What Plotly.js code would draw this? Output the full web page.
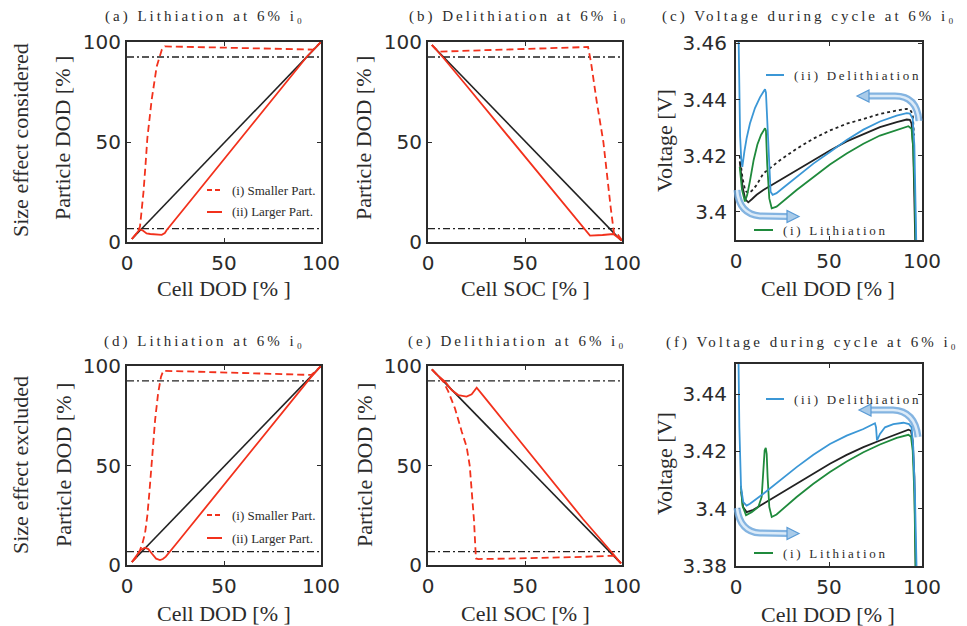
<!DOCTYPE html>
<html><head><meta charset="utf-8">
<script src="https://cdn.plot.ly/plotly-3.0.1.min.js"></script>
<style>html,body{margin:0;padding:0;background:#fff}#chart{width:967px;height:626px}</style>
</head><body><div id="chart"></div>
<script>
// ---------------- tick labels ----------------
const pctTickVals = [0, 50, 100];
const pctTickText = ['0', '50', '100'];
const voltTickValsC = [3.40, 3.42, 3.44, 3.46];
const voltTickTextC = ['3.4', '3.42', '3.44', '3.46'];
const voltTickValsF = [3.38, 3.40, 3.42, 3.44];
const voltTickTextF = ['3.38', '3.4', '3.42', '3.44'];
// dash-dot reference levels (particle DOD %)
const refLevels = [6.7, 92.5];
const refSpan = [0, 100];

// ---------------- (a) lithiation, size effect considered ----------------
const aCellX = [2.5, 100];
const aCellY = [1.5, 100];
const aSmallX = [2.5, 5, 6.7, 7.5, 8.5, 9.5, 10.5, 12.7, 15.3, 17.9, 19.5, 30, 50, 70, 90, 96, 100];
const aSmallY = [1.5, 4.3, 7.7, 15, 25, 38, 52, 71, 87.7, 96, 97.8, 97.6, 97.2, 96.8, 96.4, 96.2, 100];
const aLargeX = [2.5, 5, 6.6, 8, 10.1, 12, 15, 17.9, 19.5, 20.5, 30, 40, 50, 60, 70, 80, 92.6, 100];
const aLargeY = [1.5, 4.5, 6.3, 5.8, 4.3, 4, 3.7, 3.6, 4.5, 6, 17.4, 29.4, 41.4, 53.4, 65.4, 77.4, 92.5, 100];

// ---------------- (b) delithiation, size effect considered ----------------
const bCellX = [2, 99.5];
const bCellY = [98.5, 0.8];
const bLargeX = [2, 5, 8, 20, 40, 60, 82, 83.5, 90, 95.5, 100];
const bLargeY = [98.5, 95.5, 92, 78, 54.4, 30.7, 4.5, 3.2, 3.5, 4, 0.8];
const bSmallX = [2, 4, 6.2, 20, 40, 60, 80, 82.5, 84, 87, 90.4, 92.4, 94.2, 96, 98, 100];
const bSmallY = [98.5, 96.5, 95.2, 95.6, 96.2, 96.8, 97.4, 97.5, 90, 70, 50, 31, 17, 3.5, 3.5, 0.8];

// ---------------- (c) voltage, size effect considered ----------------
const cBlueX = [1.1, 1.6, 2.2, 2.8, 3.4, 4.5, 5.7, 7.5, 10.2, 12.9, 15.6, 16.1, 16.8, 17.7, 18.6, 19.7, 21.8, 25.4, 32.6, 41.6, 50.5, 55.9, 59.5, 68.5, 77.4, 86.4, 91.8, 93.5, 95, 95.9, 96.6, 97.2, 97.5];
const cBlueV = [3.475, 3.445, 3.427, 3.419, 3.416, 3.4215, 3.4262, 3.4315, 3.4370, 3.4408, 3.4437, 3.4425, 3.4320, 3.4166, 3.4072, 3.4061, 3.4067, 3.4086, 3.4125, 3.4172, 3.4213, 3.4238, 3.4256, 3.4293, 3.4322, 3.4343, 3.4352, 3.4350, 3.4332, 3.4237, 3.4084, 3.3896, 3.37];
const cGreenX = [2.0, 3.2, 4.8, 6.0, 7.5, 9.5, 11.5, 13.5, 15.6, 16.1, 16.8, 17.9, 19.2, 21.8, 32.6, 41.6, 50.5, 59.5, 68.5, 77.4, 86.4, 92.7, 94.4, 95.3, 96.2, 96.8, 97];
const cGreenV = [3.416, 3.408, 3.4037, 3.4060, 3.4110, 3.4185, 3.4240, 3.4275, 3.4298, 3.4290, 3.4166, 3.4048, 3.4013, 3.4019, 3.4078, 3.4125, 3.4169, 3.4208, 3.4243, 3.4272, 3.4293, 3.4305, 3.4296, 3.4225, 3.4049, 3.3896, 3.37];
const cBlackX = [2.0, 3.5, 5, 6.6, 8.5, 11.1, 14.7, 23.6, 32.6, 41.6, 50.5, 59.5, 68.5, 77.4, 86.4, 91.8, 93.5, 94.4, 95.3, 96.2, 96.8, 97];
const cBlackV = [3.418, 3.409, 3.4045, 3.4034, 3.4045, 3.4061, 3.4078, 3.4113, 3.4148, 3.4184, 3.4219, 3.4251, 3.4278, 3.4302, 3.4320, 3.4329, 3.4328, 3.4314, 3.4225, 3.4049, 3.3896, 3.37];
const cDotX = [2.0, 3.5, 5, 6.6, 8.5, 11.1, 14.7, 23.6, 32.6, 41.6, 50.5, 59.5, 68.5, 77.4, 86.4, 91.8, 93.5, 95, 95.7];
const cDotV = [3.420, 3.412, 3.4075, 3.4067, 3.4075, 3.4096, 3.4137, 3.4184, 3.4225, 3.4261, 3.4290, 3.4314, 3.4331, 3.4349, 3.4361, 3.4367, 3.4364, 3.4349, 3.4272];

// ---------------- (d) lithiation, size effect excluded ----------------
const dCellX = [2.5, 100];
const dCellY = [1.5, 100];
const dSmallX = [2.5, 5, 6.7, 8, 9.3, 10.5, 11.5, 12.5, 13.5, 14.5, 16, 17.5, 18.7, 30, 50, 70, 90, 95, 100];
const dSmallY = [1.5, 4, 7.5, 11, 16, 25, 36, 48, 60, 73, 86, 94.5, 97.6, 97.3, 96.8, 96.3, 95.7, 95.5, 100];
const dLargeX = [2.5, 5, 7, 9.3, 11, 13, 15, 17, 18.5, 20, 22, 25, 30, 40, 50, 60, 70, 80, 94.3, 100];
const dLargeY = [1.5, 4.5, 7.5, 8.7, 8, 5.5, 3.2, 2.5, 3, 4.2, 6.4, 10.2, 16.2, 28.3, 40.3, 52.4, 64.4, 76.5, 93.8, 100];

// ---------------- (e) delithiation, size effect excluded ----------------
const eCellX = [2, 99.5];
const eCellY = [98.3, 0.8];
const eLargeX = [2, 5, 8.8, 12.2, 15.6, 19.9, 22.5, 25.1, 30, 40, 50, 60, 70, 80, 93.8, 99.5];
const eLargeY = [98.3, 95.3, 92.1, 87.9, 85.4, 84.6, 85.8, 89.1, 83.2, 71.2, 59.1, 47.1, 35, 23, 7.4, 0.8];
const eSmallX = [2, 5, 8, 10.5, 13.9, 17.4, 19.9, 21.5, 22.5, 23.7, 24.7, 26, 40, 60, 80, 95.5, 99.5];
const eSmallY = [98.3, 95.3, 92, 87.1, 78.7, 67, 59.4, 50, 39.3, 22.6, 3.3, 3, 3.2, 3.6, 4.1, 4.7, 0.8];

// ---------------- (f) voltage, size effect excluded ----------------
const fBlueX = [1.0, 1.3, 1.8, 2.7, 3.9, 5.7, 7.5, 14.7, 23.6, 32.6, 41.6, 50.5, 59.5, 68.5, 74.7, 75.3, 75.8, 77.4, 80.1, 84.6, 90, 93, 94.4, 95.3, 96.2, 97.1, 97.4];
const fBlueV = [3.47, 3.452, 3.4284, 3.4075, 3.4023, 3.4011, 3.4017, 3.4052, 3.4099, 3.4145, 3.4188, 3.4226, 3.4255, 3.4278, 3.4298, 3.4284, 3.4238, 3.4261, 3.4284, 3.4295, 3.4300, 3.4295, 3.4284, 3.4214, 3.4052, 3.382, 3.37];
const fBlackX = [2.8, 3.8, 5.7, 9.3, 14.7, 23.6, 32.6, 41.6, 50.5, 59.5, 68.5, 77.4, 86.4, 92.7, 94.1, 95, 95.9, 96.6, 96.8];
const fBlackV = [3.406, 3.4006, 3.3988, 3.3996, 3.4017, 3.4052, 3.4087, 3.4122, 3.4157, 3.4188, 3.4215, 3.4238, 3.4261, 3.4276, 3.4272, 3.4238, 3.4110, 3.382, 3.37];
const fGreenX = [2.6, 3.5, 5.4, 8.4, 12, 13.8, 14.7, 15.4, 16, 16.5, 17, 17.9, 19.2, 21.8, 32.6, 41.6, 50.5, 59.5, 68.5, 77.4, 86.4, 92.7, 94.1, 95, 95.9, 96.6, 96.8];
const fGreenV = [3.408, 3.401, 3.3977, 3.3988, 3.4006, 3.4041, 3.4133, 3.4203, 3.4212, 3.4191, 3.4110, 3.4006, 3.3971, 3.3980, 3.4041, 3.4087, 3.4128, 3.4165, 3.4197, 3.4224, 3.4247, 3.4258, 3.4251, 3.4203, 3.4052, 3.382, 3.37];

// ---------------- styling ----------------
const W = 967, H = 626;
const fx = p => p / W;
const fy = p => 1 - p / H;
const RED = '#f2311c', BLK = '#222222', BLUE = '#3b97d6', GREEN = '#1f8a3c', INK = '#2b2b2b';
const SERIF = 'Liberation Serif, Times New Roman, serif';
const SANS = 'DejaVu Sans, Arial, sans-serif';
const DASH = '7px,4px';
const DASHDOT = '7px,3px,2px,3px';

function ln(x, y, n, color, width, dash) {
  const s = n === 1 ? '' : String(n);
  return {type: 'scatter', mode: 'lines', x: x, y: y, xaxis: 'x' + s, yaxis: 'y' + s,
    line: {color: color, width: width, dash: dash || 'solid'}, hoverinfo: 'skip', showlegend: false};
}
function refLines(n) {
  return refLevels.map(v => ln(refSpan, [v, v], n, BLK, 1.3, DASHDOT));
}

const traces = [].concat(
  refLines(1), [ln(aCellX, aCellY, 1, BLK, 1.6), ln(aLargeX, aLargeY, 1, RED, 1.8), ln(aSmallX, aSmallY, 1, RED, 1.8, DASH)],
  refLines(2), [ln(bCellX, bCellY, 2, BLK, 1.6), ln(bLargeX, bLargeY, 2, RED, 1.8), ln(bSmallX, bSmallY, 2, RED, 1.8, DASH)],
  [ln(cBlackX, cBlackV, 3, BLK, 1.8), ln(cDotX, cDotV, 3, BLK, 1.8, '3px,3px'), ln(cGreenX, cGreenV, 3, GREEN, 1.8), ln(cBlueX, cBlueV, 3, BLUE, 1.8)],
  refLines(4), [ln(dCellX, dCellY, 4, BLK, 1.6), ln(dLargeX, dLargeY, 4, RED, 1.8), ln(dSmallX, dSmallY, 4, RED, 1.8, DASH)],
  refLines(5), [ln(eCellX, eCellY, 5, BLK, 1.6), ln(eLargeX, eLargeY, 5, RED, 1.8), ln(eSmallX, eSmallY, 5, RED, 1.8, DASH)],
  [ln(fBlackX, fBlackV, 6, BLK, 1.8), ln(fGreenX, fGreenV, 6, GREEN, 1.8), ln(fBlueX, fBlueV, 6, BLUE, 1.8)]
);

function axis(px0, px1, range, tv, tt, anchor, isY, standoff) {
  const dom = isY ? [fy(px1), fy(px0)] : [fx(px0), fx(px1)];
  return {domain: dom, range: range, tickvals: tv, ticktext: tt, anchor: anchor,
    showline: true, mirror: 'ticks', linecolor: INK, linewidth: 2,
    ticks: 'inside', ticklen: 4, tickwidth: 1, tickcolor: INK,
    showgrid: false, zeroline: false, fixedrange: true, automargin: false,
    ticklabelstandoff: standoff,
    tickfont: {family: SANS, size: 20, color: INK}};
}

const layout = {
  width: W, height: H, margin: {l: 0, r: 0, t: 0, b: 0},
  paper_bgcolor: '#ffffff', plot_bgcolor: '#ffffff', showlegend: false,
  xaxis:  axis(127, 321, [0, 100], pctTickVals, pctTickText, 'y', false, 2),
  yaxis:  axis(42, 242, [0, 100], pctTickVals, pctTickText, 'x', true, 0),
  xaxis2: axis(428, 622, [0, 100], pctTickVals, pctTickText, 'y2', false, 2),
  yaxis2: axis(42, 242, [0, 100], pctTickVals, pctTickText, 'x2', true, 0),
  xaxis3: axis(736, 922, [0, 100], pctTickVals, pctTickText, 'y3', false, 2),
  yaxis3: axis(42, 240, [3.39, 3.4605], voltTickValsC, voltTickTextC, 'x3', true, 3),
  xaxis4: axis(127, 321, [0, 100], pctTickVals, pctTickText, 'y4', false, 2),
  yaxis4: axis(366, 565, [0, 100], pctTickVals, pctTickText, 'x4', true, 0),
  xaxis5: axis(428, 622, [0, 100], pctTickVals, pctTickText, 'y5', false, 2),
  yaxis5: axis(366, 565, [0, 100], pctTickVals, pctTickText, 'x5', true, 0),
  xaxis6: axis(736, 922, [0, 100], pctTickVals, pctTickText, 'y6', false, 2),
  yaxis6: axis(364, 566, [3.38, 3.4505], voltTickValsF, voltTickTextF, 'x6', true, 3),
  annotations: [],
  shapes: []
};

function note(text, px, py, size, opts) {
  return Object.assign({text: text, x: fx(px), y: fy(py), xref: 'paper', yref: 'paper', showarrow: false,
    xanchor: 'center', yanchor: 'middle', font: {family: SERIF, size: size, color: INK}}, opts || {});
}
const sp = (t, s, size) => '<span style="letter-spacing:' + s + 'px;font-size:' + size + 'px">' + t + '</span>';

// panel titles
[['(a) Lithiation at 6% i\u2080', 205, 17], ['(b) Delithiation at 6% i\u2080', 518, 17], ['(c) Voltage during cycle at 6% i\u2080', 809, 17],
 ['(d) Lithiation at 6% i\u2080', 204, 341], ['(e) Delithiation at 6% i\u2080', 517, 341], ['(f) Voltage during cycle at 6% i\u2080', 812, 342]]
  .forEach(t => layout.annotations.push(note(sp(t[0], 3, 15), t[1], t[2], 15)));

// row labels
layout.annotations.push(note('Size effect considered', 20, 140, 22, {textangle: -90}));
layout.annotations.push(note('Size effect excluded', 20, 465, 22, {textangle: -90}));

// axis titles
[[63, 138], [364, 138], [63, 465], [364, 465]].forEach(p => layout.annotations.push(note('Particle DOD [% ]', p[0], p[1], 22, {textangle: -90})));
[[664, 141], [664, 464]].forEach(p => layout.annotations.push(note('Voltage [V]', p[0], p[1], 22, {textangle: -90})));
[['Cell DOD [% ]', 224, 288], ['Cell SOC [% ]', 525, 288], ['Cell DOD [% ]', 828, 288],
 ['Cell DOD [% ]', 224, 613], ['Cell SOC [% ]', 525, 613], ['Cell DOD [% ]', 828, 614]]
  .forEach(t => layout.annotations.push(note(t[0], t[1], t[2], 22)));

// legend-like keys
function key(label, x0, x1, py, color, dash, size, spacing) {
  layout.shapes.push({type: 'line', xref: 'paper', yref: 'paper', x0: fx(x0), x1: fx(x1), y0: fy(py), y1: fy(py),
    line: {color: color, width: 2, dash: dash || 'solid'}});
  layout.annotations.push(note(spacing ? sp(label, spacing, size) : label, x1 + 8, py, size, {xanchor: 'left'}));
}
key('(i) Smaller Part.', 207, 222, 190, RED, '5px,3px', 13);
key('(ii) Larger Part.', 207, 222, 212, RED, 'solid', 13);
key('(i) Smaller Part.', 207, 222, 515, RED, '5px,3px', 13);
key('(ii) Larger Part.', 207, 222, 538, RED, 'solid', 13);
key('(ii) Delithiation', 766, 784, 75, BLUE, 'solid', 13, 2.7);
key('(i) Lithiation', 754, 773, 230, GREEN, 'solid', 13, 2.7);
key('(ii) Delithiation', 766, 784, 399, BLUE, 'solid', 13, 2.7);
key('(i) Lithiation', 754, 773, 553, GREEN, 'solid', 13, 2.7);

// curved direction arrows
const P = (x, y) => fx(x).toFixed(5) + ',' + fy(y).toFixed(5);
function curvedArrow(sx, sy, cx, cy, ex, ey, lx, ly, tipx) {
  const d = 'M' + P(sx, sy) + ' Q' + P(cx, cy) + ' ' + P(ex, ey) + ' L' + P(lx, ly);
  layout.shapes.push({type: 'path', xref: 'paper', yref: 'paper', path: d, line: {color: '#6fa8dc', width: 7}, opacity: 0.85});
  layout.shapes.push({type: 'path', xref: 'paper', yref: 'paper', path: d, line: {color: '#dcebf8', width: 2.5}});
  const head = 'M' + P(tipx, ly) + ' L' + P(lx, ly - 6) + ' L' + P(lx, ly + 6) + ' Z';
  layout.shapes.push({type: 'path', xref: 'paper', yref: 'paper', path: head, fillcolor: '#a9cbe9', line: {color: '#5b9bd5', width: 1.2}});
}
curvedArrow(919, 121, 917, 96, 895, 96, 869, 96, 857);
curvedArrow(737, 190, 739, 214, 760, 216, 787, 216.5, 799);
curvedArrow(918, 437, 915, 411, 893, 410, 871, 410, 859);
curvedArrow(737, 508, 740, 532, 760, 533, 787, 533.5, 799);

Plotly.newPlot('chart', traces, layout, {displayModeBar: false, staticPlot: true});
</script>
</body></html>
